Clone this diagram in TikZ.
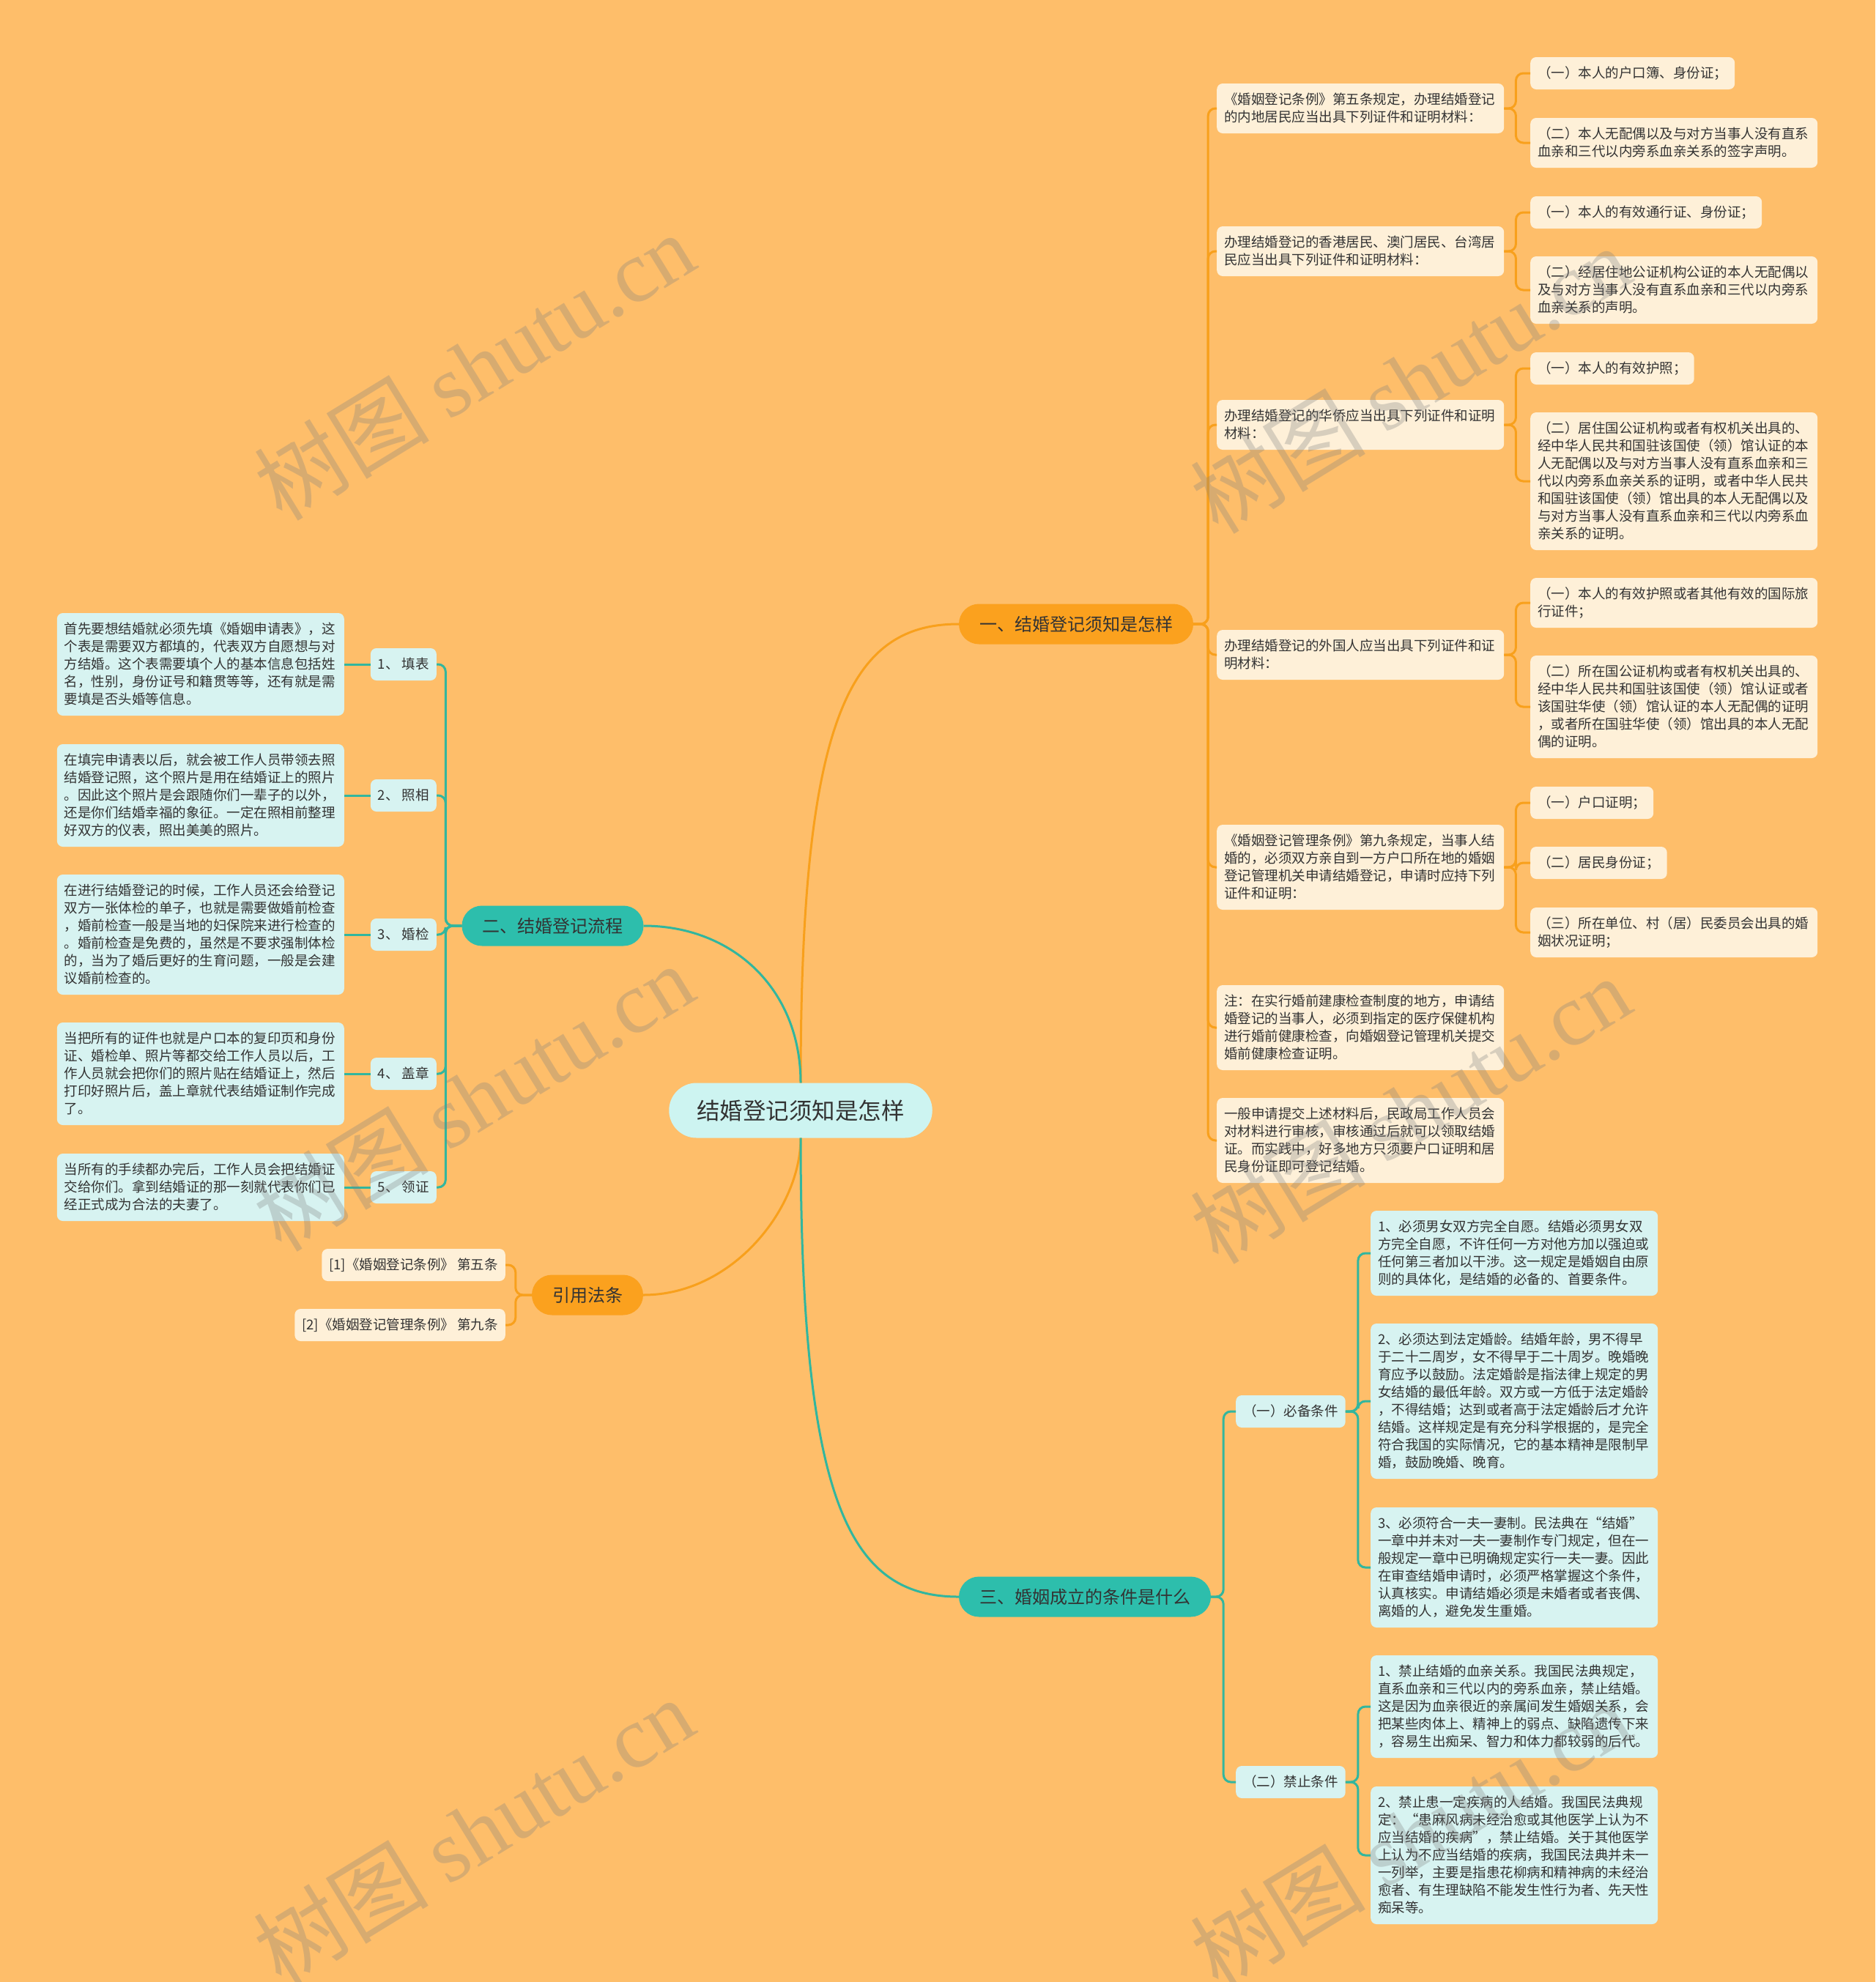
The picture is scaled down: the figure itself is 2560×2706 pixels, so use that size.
\documentclass[tikz,border=0pt]{standalone}
\usepackage{fontspec}
\setmainfont{Noto Sans CJK SC}
\newfontfamily\wmserif{Liberation Serif}
\definecolor{bgc}{RGB}{254,190,106}
\definecolor{creamc}{RGB}{254,240,216}
\definecolor{lteal}{RGB}{215,243,241}
\definecolor{centc}{RGB}{205,244,241}
\definecolor{opill}{RGB}{251,161,30}
\definecolor{tpill}{RGB}{45,190,172}
\definecolor{oc}{RGB}{248,160,28}
\definecolor{tc}{RGB}{50,182,158}
\definecolor{txt}{RGB}{51,51,51}
\newcommand\fsmall{\fontsize{18.5pt}{24pt}\selectfont}
\newcommand\fmainb{\fontsize{24pt}{28pt}\selectfont}
\newcommand\fcent{\fontsize{31.5pt}{36pt}\selectfont}
\newcommand\fwm{\fontsize{120pt}{130pt}\selectfont}
\newcommand\mystrut{\vrule height 18.5pt depth 5.5pt width 0pt}
\begin{document}
\begin{tikzpicture}[x=1pt,y=-1pt,
  boxbase/.style={rounded corners=8pt, inner xsep=10pt, inner ysep=10pt, font=\fsmall, text=txt, align=left,
    execute at begin node=\mystrut, execute at end node=\mystrut},
  cbox/.style={boxbase, fill=creamc},
  lbox/.style={boxbase, fill=lteal},
  wide/.style={text width=372pt},
  opillst/.style={fill=opill, rounded corners=27.5pt, minimum height=55pt, inner xsep=28pt, inner ysep=0pt, font=\fmainb, text=txt},
  tpillst/.style={fill=tpill, rounded corners=27.5pt, minimum height=55pt, inner xsep=28pt, inner ysep=0pt, font=\fmainb, text=txt},
  centst/.style={fill=centc, rounded corners=37.5pt, minimum height=75pt, inner xsep=38pt, inner ysep=0pt, font=\fcent, text=txt},
  oline/.style={draw=oc, line width=3pt},
  tline/.style={draw=tc, line width=3pt},
  wmark/.style={text=gray, opacity=0.3, font=\fwm, rotate=31.5, inner sep=0pt}
]
\useasboundingbox (0,0) rectangle (2560,2706);
\fill[bgc] (0,0) rectangle (2560,2706);

% center and main branches
\node[centst] (c) at (1093,1516) {结婚登记须知是怎样};
\node[opillst] (m1) at (1469,852) {一、结婚登记须知是怎样};
\node[tpillst] (m2) at (754.5,1264) {二、结婚登记流程};
\node[opillst] (m3) at (802,1768) {引用法条};
\node[tpillst] (m4) at (1481,2180) {三、婚姻成立的条件是什么};

% branch 1 level 2
\node[cbox, wide, anchor=west] (a1) at (1661,148) {《婚姻登记条例》第五条规定，办理结婚登记\\的内地居民应当出具下列证件和证明材料：};
\node[cbox, wide, anchor=west] (a2) at (1661,343) {办理结婚登记的香港居民、澳门居民、台湾居\\民应当出具下列证件和证明材料：};
\node[cbox, wide, anchor=west] (a3) at (1661,580) {办理结婚登记的华侨应当出具下列证件和证明\\材料：};
\node[cbox, wide, anchor=west] (a4) at (1661,894) {办理结婚登记的外国人应当出具下列证件和证\\明材料：};
\node[cbox, wide, anchor=west] (a5) at (1661,1184) {《婚姻登记管理条例》第九条规定，当事人结\\婚的，必须双方亲自到一方户口所在地的婚姻\\登记管理机关申请结婚登记，申请时应持下列\\证件和证明：};
\node[cbox, wide, anchor=west] (a6) at (1661,1403) {注：在实行婚前建康检查制度的地方，申请结\\婚登记的当事人，必须到指定的医疗保健机构\\进行婚前健康检查，向婚姻登记管理机关提交\\婚前健康检查证明。};
\node[cbox, wide, anchor=west] (a7) at (1661,1557) {一般申请提交上述材料后，民政局工作人员会\\对材料进行审核，审核通过后就可以领取结婚\\证。而实践中，好多地方只须要户口证明和居\\民身份证即可登记结婚。};

% branch 1 level 3
\node[cbox, anchor=west] (a1c1) at (2089,100) {（一）本人的户口簿、身份证；};
\node[cbox, wide, anchor=west] (a1c2) at (2089,195) {（二）本人无配偶以及与对方当事人没有直系\\血亲和三代以内旁系血亲关系的签字声明。};
\node[cbox, anchor=west] (a2c1) at (2089,290) {（一）本人的有效通行证、身份证；};
\node[cbox, wide, anchor=west] (a2c2) at (2089,396) {（二）经居住地公证机构公证的本人无配偶以\\及与对方当事人没有直系血亲和三代以内旁系\\血亲关系的声明。};
\node[cbox, anchor=west] (a3c1) at (2089,503) {（一）本人的有效护照；};
\node[cbox, wide, anchor=west] (a3c2) at (2089,657) {（二）居住国公证机构或者有权机关出具的、\\经中华人民共和国驻该国使（领）馆认证的本\\人无配偶以及与对方当事人没有直系血亲和三\\代以内旁系血亲关系的证明，或者中华人民共\\和国驻该国使（领）馆出具的本人无配偶以及\\与对方当事人没有直系血亲和三代以内旁系血\\亲关系的证明。};
\node[cbox, wide, anchor=west] (a4c1) at (2089,823) {（一）本人的有效护照或者其他有效的国际旅\\行证件；};
\node[cbox, wide, anchor=west] (a4c2) at (2089,965) {（二）所在国公证机构或者有权机关出具的、\\经中华人民共和国驻该国使（领）馆认证或者\\该国驻华使（领）馆认证的本人无配偶的证明\\，或者所在国驻华使（领）馆出具的本人无配\\偶的证明。};
\node[cbox, anchor=west] (a5c1) at (2089,1096) {（一）户口证明；};
\node[cbox, anchor=west] (a5c2) at (2089,1178) {（二）居民身份证；};
\node[cbox, wide, anchor=west] (a5c3) at (2089,1273) {（三）所在单位、村（居）民委员会出具的婚\\姻状况证明；};

% branch 2
\node[lbox, anchor=east] (l1) at (596,907) {1、 填表};
\node[lbox, anchor=east] (l2) at (596,1086) {2、 照相};
\node[lbox, anchor=east] (l3) at (596,1276) {3、 婚检};
\node[lbox, anchor=east] (l4) at (596,1466) {4、 盖章};
\node[lbox, anchor=east] (l5) at (596,1621) {5、 领证};
\node[lbox, wide, anchor=east] (t1) at (470,907) {首先要想结婚就必须先填《婚姻申请表》，这\\个表是需要双方都填的，代表双方自愿想与对\\方结婚。这个表需要填个人的基本信息包括姓\\名，性别，身份证号和籍贯等等，还有就是需\\要填是否头婚等信息。};
\node[lbox, wide, anchor=east] (t2) at (470,1086) {在填完申请表以后，就会被工作人员带领去照\\结婚登记照，这个照片是用在结婚证上的照片\\。因此这个照片是会跟随你们一辈子的以外，\\还是你们结婚幸福的象征。一定在照相前整理\\好双方的仪表，照出美美的照片。};
\node[lbox, wide, anchor=east] (t3) at (470,1276) {在进行结婚登记的时候，工作人员还会给登记\\双方一张体检的单子，也就是需要做婚前检查\\，婚前检查一般是当地的妇保院来进行检查的\\。婚前检查是免费的，虽然是不要求强制体检\\的，当为了婚后更好的生育问题，一般是会建\\议婚前检查的。};
\node[lbox, wide, anchor=east] (t4) at (470,1466) {当把所有的证件也就是户口本的复印页和身份\\证、婚检单、照片等都交给工作人员以后，工\\作人员就会把你们的照片贴在结婚证上，然后\\打印好照片后，盖上章就代表结婚证制作完成\\了。};
\node[lbox, wide, anchor=east] (t5) at (470,1621) {当所有的手续都办完后，工作人员会把结婚证\\交给你们。拿到结婚证的那一刻就代表你们已\\经正式成为合法的夫妻了。};

% branch 3
\node[cbox, anchor=east] (r1) at (690,1727) {[1]《婚姻登记条例》 第五条};
\node[cbox, anchor=east] (r2) at (690,1809) {[2]《婚姻登记管理条例》 第九条};

% branch 4
\node[lbox, anchor=west] (k1) at (1687,1927) {（一）必备条件};
\node[lbox, anchor=west] (k2) at (1687,2433) {（二）禁止条件};
\node[lbox, wide, anchor=west] (b1) at (1871,1711) {1、必须男女双方完全自愿。结婚必须男女双\\方完全自愿，不许任何一方对他方加以强迫或\\任何第三者加以干涉。这一规定是婚姻自由原\\则的具体化，是结婚的必备的、首要条件。};
\node[lbox, wide, anchor=west] (b2) at (1871,1913) {2、必须达到法定婚龄。结婚年龄，男不得早\\于二十二周岁，女不得早于二十周岁。晚婚晚\\育应予以鼓励。法定婚龄是指法律上规定的男\\女结婚的最低年龄。双方或一方低于法定婚龄\\，不得结婚；达到或者高于法定婚龄后才允许\\结婚。这样规定是有充分科学根据的，是完全\\符合我国的实际情况，它的基本精神是限制早\\婚，鼓励晚婚、晚育。};
\node[lbox, wide, anchor=west] (b3) at (1871,2140) {3、必须符合一夫一妻制。民法典在“结婚”\\一章中并未对一夫一妻制作专门规定，但在一\\般规定一章中已明确规定实行一夫一妻。因此\\在审查结婚申请时，必须严格掌握这个条件，\\认真核实。申请结婚必须是未婚者或者丧偶、\\离婚的人，避免发生重婚。};
\node[lbox, wide, anchor=west] (d1) at (1871,2330) {1、禁止结婚的血亲关系。我国民法典规定，\\直系血亲和三代以内的旁系血亲，禁止结婚。\\这是因为血亲很近的亲属间发生婚姻关系，会\\把某些肉体上、精神上的弱点、缺陷遗传下来\\，容易生出痴呆、智力和体力都较弱的后代。};
\node[lbox, wide, anchor=west] (d2) at (1871,2533) {2、禁止患一定疾病的人结婚。我国民法典规\\定：“患麻风病未经治愈或其他医学上认为不\\应当结婚的疾病”，禁止结婚。关于其他医学\\上认为不应当结婚的疾病，我国民法典并未一\\一列举，主要是指患花柳病和精神病的未经治\\愈者、有生理缺陷不能发生性行为者、先天性\\痴呆等。};

% main connectors
\draw[oline] (c.north) .. controls (1093,980) and (1160,852) .. (m1.west);
\draw[tline] (c.north) .. controls (1093,1350) and (1000,1264) .. (m2.east);
\draw[oline] (c.south) .. controls (1093,1650) and (1000,1768) .. (m3.east);
\draw[tline] (c.south) .. controls (1093,2053) and (1160,2180) .. (m4.west);

% branch 1 connectors
\foreach \n in {a1,a2,a3,a4,a5,a6,a7}
  \draw[oline, rounded corners=10pt] (m1.east) -- ++(20,0) |- (\n.west);
\foreach \p/\n in {a1/a1c1,a1/a1c2,a2/a2c1,a2/a2c2,a3/a3c1,a3/a3c2,a4/a4c1,a4/a4c2,a5/a5c1,a5/a5c2,a5/a5c3}
  \draw[oline, rounded corners=10pt] (\p.east) -- ++(16,0) |- (\n.west);

% branch 2 connectors
\foreach \n in {l1,l2,l3,l4,l5}
  \draw[tline, rounded corners=10pt] (m2.west) -- ++(-22,0) |- (\n.east);
\foreach \a/\b in {l1/t1,l2/t2,l3/t3,l4/t4,l5/t5}
  \draw[tline] (\a.west) -- (\b.east);

% branch 3 connectors
\foreach \n in {r1,r2}
  \draw[oline, rounded corners=10pt] (m3.west) -- ++(-22,0) |- (\n.east);

% branch 4 connectors
\foreach \n in {k1,k2}
  \draw[tline, rounded corners=10pt] (m4.east) -- ++(17,0) |- (\n.west);
\foreach \p/\n in {k1/b1,k1/b2,k1/b3,k2/d1,k2/d2}
  \draw[tline, rounded corners=10pt] (\p.east) -- ++(17,0) |- (\n.west);

% watermarks
\foreach \i/\x/\y in {1/647/500,2/1925/518,3/646/1498,4/1925/1515,5/646/2500,6/1925/2505}
  \node[wmark] (wm\i) at (\x,\y) {树图 {\wmserif shutu.cn}};
\end{tikzpicture}
\end{document}
